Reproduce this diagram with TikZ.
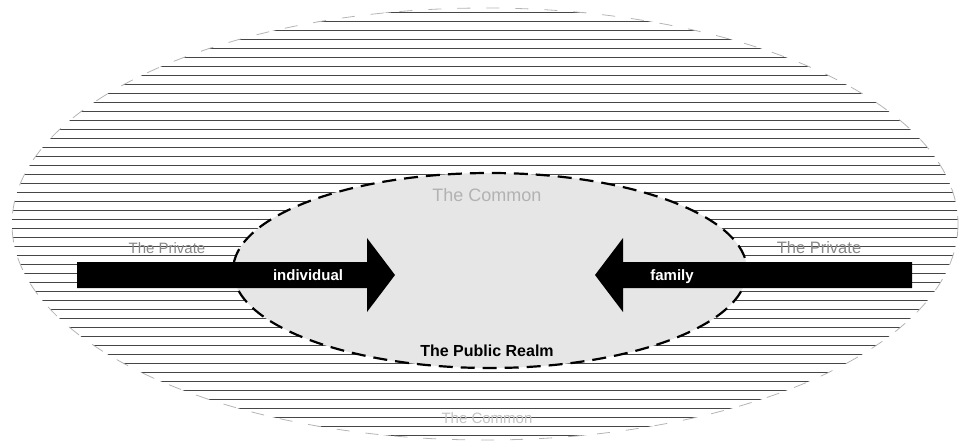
\documentclass[tikz,border=0pt]{standalone}
\usepackage{fontspec}
\setmainfont{Liberation Sans}
\usetikzlibrary{positioning}
\definecolor{hatchgray}{RGB}{70,70,70}
\definecolor{rimgray}{RGB}{180,180,180}
\definecolor{realmfill}{RGB}{230,230,230}
\definecolor{privategray}{RGB}{135,135,135}
\definecolor{commongray}{RGB}{178,178,178}
\definecolor{lowgray}{RGB}{195,195,195}
\tikzset{
  hatch/.style={draw=hatchgray, line width=1pt},
  outerrim/.style={draw=rimgray, line width=0.8pt, dash pattern=on 13pt off 16pt},
  realm/.style={fill=realmfill, draw=black, line width=2.2pt, dash pattern=on 14pt off 8pt},
  bigarrow/.style={fill=black},
  privatelabel/.style={text=privategray, inner sep=0pt, font=\fontsize{15}{18}\selectfont},
  commonlabel/.style={text=commongray, inner sep=0pt, font=\fontsize{18}{21}\selectfont},
  arrowlabel/.style={text=white, inner sep=0pt, anchor=base, font=\bfseries\fontsize{15}{18}\selectfont},
  realmlabel/.style={text=black, inner sep=0pt, font=\bfseries\fontsize{16}{19}\selectfont}
}

\begin{document}
\begin{tikzpicture}[x=1pt, y=-1pt]
\useasboundingbox (0,0) rectangle (960,447);

% outer hatched ellipse
\begin{scope}
  \clip (485,224) ellipse [x radius=473, y radius=216];
  \foreach \y in {12,21,...,440}
    \draw[hatch] (0,\y) -- (960,\y);
\end{scope}
\draw[outerrim] (485,224) ellipse [x radius=473, y radius=216];

% the public realm
\draw[realm] (490,270.5) ellipse [x radius=257, y radius=97.5];

% arrows
\fill[bigarrow] (77,262) -- (367,262) -- (367,238) -- (395,275)
  -- (367,312) -- (367,288) -- (77,288) -- cycle;
\fill[bigarrow] (912,262) -- (623,262) -- (623,238) -- (595,275)
  -- (623,312) -- (623,288) -- (912,288) -- cycle;

\node[privatelabel] (privL) at (167,248) {The Private};
\node[privatelabel, font=\fontsize{16.5}{19}\selectfont] (privR) at (819,248) {The Private};
\node[commonlabel] (commonT) at (487,195) {The Common};
\node[commonlabel, text=lowgray, font=\fontsize{15}{18}\selectfont] (commonB) at (487,418) {The Common};
\node[realmlabel] (realm) at (487,351) {The Public Realm};
\node[arrowlabel] (indiv) at (308,280) {individual};
\node[arrowlabel] (family) at (672,280) {family};
\end{tikzpicture}
\end{document}
